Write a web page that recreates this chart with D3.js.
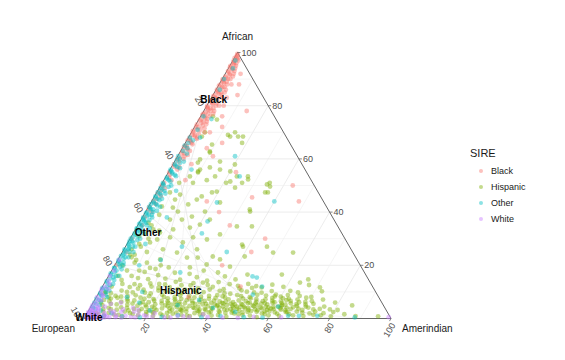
<!DOCTYPE html>
<html>
<head>
<meta charset="utf-8">
<script src="https://cdn.jsdelivr.net/npm/d3@7"></script>
<style>
  body { margin: 0; background: #fff; }
  text { font-family: 'Liberation Sans', Arial, sans-serif; }
</style>
</head>
<body>
<div id="chart"></div>
<script>
// ternary data: [African, Amerindian] in percent, European = 100 - both
const black = [
  [99,0.5],[98,1],[97,0.3],[97,1.8],[96,0.8],[95,2],[95,0.2],[94,1.2],[93,2.5],[93,0.4],[92,1.5],[91,0.6],[91,3],
  [90,1.9],[90,0.2],[89,1],[88,2.6],[88,0.5],[87,1.6],[86,3.2],[86,0.3],[85,1.1],[85,2.2],[84,0.6],[83,1.8],[83,3.5],
  [82,0.4],[82,2.4],[81,1.3],[80,0.2],[80,3],[79,1.7],[79,0.8],[78,2.2],[77,0.4],[77,3.6],[76,1.4],[75,0.7],[75,2.6],
  [74,1.9],[73,0.3],[73,3.3],[72,1.2],[71,2.4],[70,0.6],[70,4.2],[69,1.6],[68,0.4],[68,2.8],[67,1],[66,2],[65,0.5],
  [64,1.5],[63,3],[62,0.8],[61,2.2],[60,0.4],[59,1.4],[57,0.9],[56,2.4],[55,0.3],[53,1.2],[51,0.6],[49,1.8],[47,0.5],
  [45,1.1],[42,0.4],[40,2],[38,0.8],[35,1.4],[30,0.6],[25,1.3],[20,0.5],
  [99.5,0.2],[98.5,0.4],[98,0.1],[97.5,1.2],[96.5,0.5],[96,1.6],[95.5,1],[94.5,0.3],[94,2.2],[93.5,1.5],[92.5,0.8],
  [92,2.8],[91.5,1.7],[90.5,1],[90,2.7],[89.5,0.4],[89,2],[88.5,1.3],[87.5,0.2],[87,2.3],[86.5,1.5],[85.5,0.6],[85,3.3],
  [84.5,1.8],[84,2.8],[83.5,0.3],[83,1.1],[82.5,2],[81.5,0.7],[81,2.7],[80.5,1.6],[80,4],[79.5,0.3],[79,2.6],[78.5,1.2],
  [78,3.4],[77.5,0.9],[77,2],[76.5,0.3],[76,3],[75.5,1.8],[74.5,0.5],[74,3],[73.5,1.5],[72.5,2.4],[72,0.5],[71.5,3.5],
  [71,1.1],[70.5,0.2],[69.5,2.6],[69,0.8],[68.5,1.8],[67.5,3],[67,0.3],[66.5,1.5],[65.5,2.6],[65,1],[64.5,0.3],[63.5,2],
  [63,0.6],[62,1.6],[61.5,3],[60.5,1],[60,2.4],[58,0.3],[57,2.5],[54,1],[52,2.5],[50,0.3],[48,1],[46,2],[44,0.6],
  [43,1.8],[41,0.5],
  [92,5],[88,6.5],[84,8],[80,5.5],[78,14],[76,7],[72,9],[70,6],[66,12],[64,8],[61,11.5],[55,22],[50,43],[45.5,32],
  [44,48],[44,18],[58,6],[52,7],[40,24],[35,30],[88,4],[83,5],[30,44],[25,42],[20,35],[12,45],[8,30]
];
const hispanic = [
  [1,6],[1.5,9],[0.8,12],[2,14],[1.2,17],[2.5,19],[1,22],[1.8,24],[0.6,27],[2.2,29],[1.4,31],[0.9,34],[2.7,36],
  [1.6,38],[1.1,41],[2.4,43],[0.7,46],[1.9,48],[1.3,51],[2.8,53],[0.5,56],[1.7,58],[2.3,61],[1,63],[1.6,66],[2.6,68],
  [0.9,71],[1.4,74],[2,77],[0.8,80],[1.6,84],[0.9,88],[0.8,95.4],
  [2.1,7],[1.4,10.5],[2.6,12],[1.7,15],[2.9,16.5],[1.5,19.5],[2.3,21.5],[1.2,25],[2.7,26.5],[1.8,28],[2.9,30.5],
  [1.1,33],[2,35],[1.5,37],[2.6,40],[1.3,43],[2.1,45],[2.9,47],[1.6,49.5],[2.3,50.5],[1.1,53.5],[2.5,55],[1.9,57],
  [1.2,59.5],[2.8,59],[1.8,62],[2.4,65],[1.2,67.5],[2.2,70],[1.9,72.5],[2.6,74],[1.2,76.5],[2.4,80],
  [3.5,7],[4.2,10],[3,13],[4.8,15],[3.6,17],[4.4,20],[3.2,22],[4.9,24],[3.8,26],[4.3,28],[3.1,30],[4.7,32],[3.9,34],
  [3.3,36],[4.6,38],[3.7,40],[4.1,42],[3.4,44],[4.8,46],[3.6,48],[4.4,50],[3.2,52],[4.9,54],[3.8,56],[4.2,58],[3.5,60],
  [4.6,62],[3.1,64],[4.3,66],[3.7,68],[4.5,70],[3.4,73],[4.5,76],[3.4,78.4],[4.9,84.9],[3.2,81],
  [3.3,9],[4,12],[3.6,14.5],[4.5,18],[3.1,19.5],[3.9,21],[4.6,25],[3.4,27],[4.2,30],[3.7,31.5],[4.4,35],[3.2,38],
  [4,39.5],[4.5,43],[3.5,46],[4.2,46.5],[3.1,49],[4,51.5],[4.6,53],[3.4,54],[4.1,55.5],[3.2,58],[4.4,57],[3.7,59],
  [4.5,61],[3.3,62.5],[4,64],[3.6,65.5],[4.7,67],[3.2,69.5],[4.1,71],[3.6,75],
  [5.5,6],[6.3,9],[5.2,11.5],[6.8,13],[5.7,15.5],[6.1,18],[5.4,20.5],[6.6,22],[5.9,24.5],[6.4,26.5],[5.3,28.5],[6.9,30],
  [5.8,32.5],[6.2,34.5],[5.5,37],[6.7,39],[5.1,41],[6.3,43],[5.6,45],[6.8,47],[5.2,49],[6,51],[5.7,53],[6.5,55],[5.3,57],
  [6.1,59],[5.8,61.5],[6.6,64],[5.4,66.5],[6.2,69],[5.5,72],[6,78.8],[7.1,74.3],
  [5.3,8],[6.5,11],[5.6,13],[6.2,16],[5.1,17.5],[6.7,19.5],[5.6,22.5],[6.4,24],[5.2,26],[6.1,28],[5.7,30],[6.5,32],
  [5.4,33.5],[6.6,36],[5.9,38.5],[5.2,40],[6.4,41],[5.7,42.5],[6.1,45.5],[5.3,46.5],[6.5,49.5],[5.8,50.5],[6.3,53],
  [5.5,55],[6.7,58],[5.9,58.5],[6.4,61],[5.1,62],[6.9,62.5],[5.7,64.5],[6.1,67],[5.3,69.5],[6.5,71],
  [7.5,5],[8.2,8],[7.2,10.5],[8.7,12.5],[7.8,14.5],[8.4,17],[7.3,19],[8.9,21],[7.6,23.5],[8.1,25.5],[7.4,28],[8.6,30],
  [7.9,32],[7.1,34.5],[8.5,36.5],[7.7,39],[8.3,41],[7.2,43.5],[8.8,45.5],[7.5,48],[8,50],[7.3,52.5],[8.6,55],[7.7,57.5],
  [8.2,60],[7.4,63],[8.5,66],[7.8,68.5],[9.8,64.8],
  [7.8,7],[8.4,10],[7.4,16],[8.1,22],[7.2,26],[8.7,27],[7.6,30.5],[8.2,34],[7.4,37],[8.8,39],[7.9,42],[8.4,47],
  [7.6,50.5],[8.9,52],[7.2,55.5],[8.3,58],[7.6,61],[8.8,62],[7.1,66],[8.1,70],
  [2.5,21],[3.8,23.5],[2.1,26],[5.1,27.5],[3.4,29.5],[2.6,32],[4.1,33.5],[2.9,35.5],[5.3,36],[3.6,37.5],[2.3,39.5],
  [4.7,41],[2.8,42.5],[5.9,42],[3.3,45],[2.2,47],[4.5,47.5],[5.5,48.5],[3.8,50.5],[2.5,52],[4.9,52.5],[3.1,55],[5.8,56],
  [2.7,57.5],[4.3,59.5],[3.9,62],[5.2,63],[2.4,64.5],[4.4,48.8],[5,44],
  [2,3],[3.5,4.5],[5,3.5],[6.5,5],[4,6],[2.5,5],[7,3],[8.5,6],[9.5,2],[1.5,4],
  [9.5,4],[10.5,7],[11.8,9],[9.8,11],[12.5,12],[10.8,14],[13.2,15],[9.4,17],[11.5,18.5],[12.8,20],[10.2,21.5],[13.8,23],
  [11,25],[9.6,27],[12.4,28.5],[10.6,30.5],[13.5,32],[9.9,34],[11.9,36],[10.4,39],[12.9,41],[9.3,43],[11.3,45],[10.1,48],
  [12.2,50],[9.7,53],[11.7,52],[10.2,72.4],[11.7,71],[13.5,63.6],[9,58],
  [10,9],[11.2,12],[12.9,10],[9.7,15],[12,16],[10.5,19],[13,18],[11.8,22],[9.9,23.5],[12.5,25.5],[10.8,27.5],[13.3,29],
  [11.3,31.5],[9.6,32],[12.6,34],[10.9,35.5],[13.7,37],[11,40],[9.5,41],[12.3,44],[10.6,46],[13,47],[11.5,49],[9.8,50.5],
  [12.7,55],[10.3,56],[11.9,59],[10.4,62],[12.6,67],
  [14.5,5],[16,7.5],[15.2,10],[17.5,11],[14.8,13.5],[18.6,14],[16.3,16],[15,19],[19.2,18],[17.2,21],[14.6,24],[19.2,24.9],
  [16.8,26],[15.5,29],[18,30],[14.2,33],[17.3,35],[19.5,37.8],[15.8,38],[14.7,42],[16.5,45],[14.7,65.7],[16.5,56.2],
  [18,9],[19,12],[20,15],
  [22.2,13.7],[22.9,22.1],[20.3,29.8],[22.9,25.6],[23.3,30.3],[22.2,33.2],[23.3,40.7],[24.8,17.9],[26,12.7],[26,23.8],
  [27,38.3],[27,46.1],[24.8,49.2],[24.8,55.7],[27.8,37.6],[28.6,7.2],[28.6,17.9],[29.7,9],[29.7,25.2],[30.5,12.8],
  [30.5,20.3],[21,6],[23,4],[25,8],[27,5],[21,10],[24,3],
  [31.6,28.5],[32.3,8.6],[33.5,5.8],[33.5,12.3],[34.2,17.4],[34.6,32.5],[34.6,37.4],[35.3,20.1],[37.2,9.4],[37.2,13.3],
  [37.2,22.4],[38.3,16],[40.2,10.5],[40.2,19.3],[40.2,34],[41,33.5],[41.7,8.1],[42.1,4.3],[42.9,12.5],[43.6,22.5],
  [44.7,7.3],[44.7,14.4],[32,4],[36,3],[39,5],
  [45.9,15.4],[46.6,8],[47.4,4.3],[47.4,18],[47.4,35.3],[47.4,36.2],[47.7,19.4],[49.2,24.6],[49.6,35.8],[50.4,34.4],
  [51,5.5],[51,10],[51,20.8],[51,26],[51.5,21.9],[52,14],[52.3,27.3],[53.4,7.8],[53.4,16],[53.4,23.1],[53.4,26.7],
  [55.3,9.5],[55.3,20],[56,9.8],[56,16.3],[56.8,12.6],[57.9,20.2],[58.6,7.8],[59,14.8],[59.8,7.9],[62.8,9.6],[62.4,9.8],
  [65.4,9],[66,18.5],[68.4,4.2],[68.4,13.4],[68.4,16],[68.4,17.6],[70,4.4],[69,12.4],[70,14.2],[74.8,5.9],[76,4],
  [54.9,9.7],[51,35],
  [16,3],[18,5],[20,2.5],[22,6],[24,4.5],[26,2.5],[28,4],[30,6],[31,2.5],[33,8],[35,4.5],[12,3],[13,6],[10,2],[8,4],[6,2.5]
];
const other = [
  [97,0.8],[94,1.5],[90,0.6],[86,1.2],[82,2],[76,0.9],[71,1.5],[68,0.5],[67,2],[66,1],[65,0.3],[64,1.7],[63,0.8],
  [62,2.5],[61,0.2],[60,1.2],[59,3],[58,0.6],[57,1.9],[56,0.2],[55,1.2],[54,2.6],[53,0.5],[52,1.6],[51,0.2],[50,3.4],
  [50,1],[49,0.4],[48,2.2],[47,1.2],[46,0.3],[45,2.9],[45,1.5],[44,0.6],[43,2],[42,0.2],[42,3.8],[41,1.2],[40,0.5],
  [40,2.5],[39,1.6],[38,0.3],[38,3.2],[37,1],[36,2.2],[36,0.4],[35,1.5],[34,0.2],[34,4.4],[33,2.6],[33,1.1],[32,0.5],
  [31,1.9],[30,0.2],[30,3.3],[29,1.2],[28,0.6],[27,2.4],[26,0.2],[26,1.5],[25,3.6],[24,0.8],[23,2],[22,0.3],[21,1.3],
  [20,2.8],[19,0.5],[18,1.6],[17,0.2],[16,2.4],[15,1],[14,0.4],[13,3],[12,1.5],[11,0.5],[10,2.2],[9,0.9],[8,3.5],
  [7,1.4],[6,0.4],[5,2.6],[4,1],[3,4],[2,2],[1,6],[1,3],
  [59.5,0.5],[58.5,2],[57.5,1],[56.5,3],[55.5,0.5],[54.5,1.5],[53.5,3.2],[52.5,0.8],[51.5,2.4],[50.5,0.5],[49.5,2.8],
  [48.5,1.2],[47.5,0.3],[47,3],[46.5,1.8],[45.5,0.6],[44.5,2.3],[43.5,1],[43,0.3],[42.5,2.6],[41.5,0.8],[41,2],
  [40.5,3.5],[39.5,0.4],[39,2.6],[38.5,1.3],[37.5,0.5],[37,2.8],[36.5,1.5],[35.5,0.2],[35,3],[34.5,1.3],[33.5,0.4],
  [32.5,2],[32,3.5],[31.5,1],[30.5,0.6],[29.5,2.6],[29,0.3],[28.5,1.8],[27.5,0.8],[27,3.2],[26.5,1.4],[25.5,0.6],
  [25,2.2],[24.5,1],[23.5,0.3],[23,3],[22.5,1.6],[21.5,0.5],[21,2.4],[20.5,1],[19.5,2],[19,0.3],[18.5,3],[17.5,1.2],
  [16.5,0.6],[16,3.5],[15.5,1.8],[14.5,2.6],[13.5,0.8],[12.5,2.2],[11.5,0.3],[11,1.8],[10.5,3],[9.5,0.5],[9,2.6],
  [8.5,1.5],[7.5,0.3],[6.5,2.2],[5.5,1.2],[4.5,0.5],[3.5,2],[2.5,0.8],
  [61,18.7],[53.4,24],[44,40],[43.6,21.5],[36.5,22],[32,22.4],[27,18.4],[25,34],[15.4,48.6],[12,52],[9,50.5],[1,66],
  [1,69.5],[1,75.5],[0.5,51.8],[17.3,22.7],[15.8,47],[0.8,12],[0.4,18],[0.6,25],[1.2,30],[0.5,38],[0.9,44],[0.3,58],
  [3,20],[5,28],[4,40],[2.5,48],[6,15],[8,10],[68,3.8],[75,4],[20,8],[28,6],[38,8],[48,6],[56,7],[10,14],[22,14],
  [4.5,61],[2,8],[7,34],[0.4,88]
];
const white = [
  [0.5,0.5],[1,1.5],[0.3,2.2],[2,0.5],[1.5,2.8],[3,1.2],[0.6,3.5],[2.5,2.5],[4,0.4],[1.2,4.5],[3.5,3],[0.2,5.5],
  [5,1.8],[2.2,5.5],[6,0.6],[0.8,7],[4.5,4.5],[7,2.2],[1.8,8.5],[8,0.3],[3,7],[9,1.4],[0.5,10],[5.5,6],[10,0.6],
  [2.4,11],[11,2.4],[1,13],[12,0.8],[3.4,11],[0.6,15],[1.5,17],[0.8,20],[2,22],[0.4,26],[1,30],[14,1],[16,0.4],
  [0.5,34],[1.5,38],[0.3,45],[6,9],[4,14],[0.5,99],[0.4,1],[1.3,0.2],[0.2,1.2],[2,1.8],[0.9,2.6],[3.2,0.5],[0.1,3],
  [1.8,3.6],[2.6,1.5],[0.4,6.4],[4.2,2.6],[18,0.8],[22,0.5],[0.6,55],[0.4,64],[2.5,15],
  [0.3,0.8],[0.7,1.8],[1.6,0.9],[2.4,0.2],[0.2,4.2],[1.1,3.3],[2.8,3.3],[3.8,1.8],[0.5,8],[1.4,6],[5,0.3],[6.8,1.2],
  [0.3,12],[1.1,10],[0.4,16.5],[1.2,19],[0.6,22],[0.3,28],[8.5,2],[11,0.3],[13,1.8],[2.6,8.5],[0.8,32],[3.2,16],
  [0.5,40],[0.2,50]
];

const groupNames = ['Black', 'Hispanic', 'Other', 'White'];
const groupColors = ['#F8766D', '#7CAE00', '#00BFC4', '#C77CFF'];
// group label positions [African, Amerindian]
const groupLabelPos = [[82.3, 1.1], [10.5, 26.3], [32.3, 4.7], [0.4, 1.4]];
const tickValues = [20, 40, 60, 80, 100];
const gridValues = [10, 20, 30, 40, 50, 60, 70, 80, 90];

const width = 565, height = 360;
const svg = d3.select('#chart').append('svg').attr('width', width).attr('height', height);

// x scale follows "Amerindian + African/2", y scale follows African
const x = d3.scaleLinear().domain([0, 100]).range([84, 391]);
const y = d3.scaleLinear().domain([0, 100]).range([318.5, 52.5]);
const px = (a, m) => x(m + a / 2);
const py = a => y(a);

// gridlines
const grid = svg.append('g');
gridValues.forEach(v => {
  const major = v % 20 === 0;
  const col = major ? '#e4e4e4' : '#f0f0f0';
  // constant African
  grid.append('line').attr('x1', px(v, 0)).attr('y1', py(v)).attr('x2', px(v, 100 - v)).attr('y2', py(v))
    .attr('stroke', col).attr('stroke-width', 0.7);
  // constant Amerindian
  grid.append('line').attr('x1', px(0, v)).attr('y1', py(0)).attr('x2', px(100 - v, v)).attr('y2', py(100 - v))
    .attr('stroke', col).attr('stroke-width', 0.7);
  // constant European
  grid.append('line').attr('x1', px(0, 100 - v)).attr('y1', py(0)).attr('x2', px(v, 0)).attr('y2', py(v))
    .attr('stroke', col).attr('stroke-width', 0.7);
});

// triangle border
svg.append('path')
  .attr('d', `M${px(100, 0)},${py(100)}L${px(0, 100)},${py(0)}L${px(0, 0)},${py(0)}Z`)
  .attr('fill', 'none').attr('stroke', '#555').attr('stroke-width', 0.9);

// points
const datasets = {Black: black, Hispanic: hispanic, Other: other, White: white};
['Hispanic', 'Black', 'Other', 'White'].forEach(name => {
  const color = groupColors[groupNames.indexOf(name)];
  svg.append('g').selectAll('circle').data(datasets[name]).join('circle')
    .attr('cx', d => px(d[0], d[1]))
    .attr('cy', d => py(d[0]))
    .attr('r', 2.4)
    .attr('fill', color)
    .attr('fill-opacity', 0.45);
});

// ticks + labels
const axisG = svg.append('g').attr('fill', '#4d4d4d').style('font-size', '9px');
tickValues.forEach(v => {
  // African, right edge
  const ax = px(v, 100 - v), ay = py(v);
  svg.append('line').attr('x1', ax).attr('y1', ay).attr('x2', ax + 3).attr('y2', ay).attr('stroke', '#555').attr('stroke-width', 0.7);
  axisG.append('text').attr('x', ax + 4).attr('y', ay).attr('dy', '0.35em').text(v);
  // Amerindian, bottom edge
  const bx = px(0, v), by = py(0);
  svg.append('line').attr('x1', bx).attr('y1', by).attr('x2', bx - 1.5).attr('y2', by + 2.6).attr('stroke', '#555').attr('stroke-width', 0.7);
  axisG.append('text').attr('text-anchor', 'end').attr('dy', '0.35em')
    .attr('transform', `translate(${bx + 2},${by + 5}) rotate(-60)`).text(v);
  // European, left edge
  const lx = px(100 - v, 0), ly = py(100 - v);
  axisG.append('text').attr('text-anchor', 'middle').attr('dy', '0.35em')
    .attr('transform', `translate(${lx - 7},${ly - 4.5}) rotate(60)`).text(v);
});

// vertex titles
const titleG = svg.append('g').attr('fill', '#1a1a1a').style('font-size', '10px');
titleG.append('text').attr('x', px(100, 0)).attr('y', 40).attr('text-anchor', 'middle').text('African');
titleG.append('text').attr('x', 75).attr('y', 332).attr('text-anchor', 'end').text('European');
titleG.append('text').attr('x', 402).attr('y', 332).text('Amerindian');

// group labels
groupNames.forEach((name, i) => {
  const p = groupLabelPos[i];
  svg.append('text').attr('x', px(p[0], p[1])).attr('y', py(p[0])).attr('dy', '0.35em')
    .attr('text-anchor', 'middle').style('font-size', '10px').style('font-weight', 'bold')
    .attr('fill', '#000').text(name);
});

// legend
const legend = svg.append('g').attr('transform', 'translate(470,0)');
legend.append('text').attr('x', 0).attr('y', 157).style('font-size', '11px').attr('fill', '#1a1a1a').text('SIRE');
groupNames.forEach((name, i) => {
  const cy = 171 + i * 16;
  legend.append('circle').attr('cx', 11).attr('cy', cy).attr('r', 2).attr('fill', groupColors[i]).attr('fill-opacity', 0.45);
  legend.append('text').attr('x', 21).attr('y', cy).attr('dy', '0.35em').style('font-size', '9px').attr('fill', '#1a1a1a').text(name);
});
</script>
</body>
</html>
